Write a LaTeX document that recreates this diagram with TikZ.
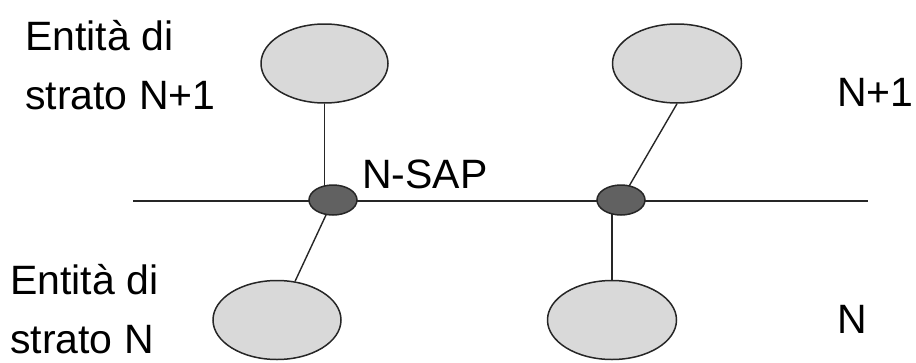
\documentclass[tikz,border=0pt]{standalone}
\usepackage{fontspec}
\setmainfont{Liberation Sans}
\usetikzlibrary{shapes.geometric}
\pgfdeclarelayer{background}
\pgfsetlayers{background,main}

\tikzset{
  entity/.style={ellipse, draw=black!85, line width=1.5pt, fill=black!15,
    minimum width=#1, minimum height=79pt, inner sep=0pt},
  sap/.style={ellipse, draw=black!85, line width=1.5pt, fill=black!62,
    minimum width=48pt, minimum height=30pt, inner sep=0pt},
  link/.style={draw=black!85, line width=1.4pt},
  lbl/.style={anchor=base west, inner sep=0pt, font=\fontsize{41}{59}\selectfont}
}

\begin{document}
\begin{tikzpicture}[x=1pt, y=-1pt]
  \useasboundingbox (0,0) rectangle (916,362);

  % layer N+1 and layer N entities
  \node[entity=127pt] (tl) at (324.5,63.5) {};
  \node[entity=129pt] (tr) at (677,63.5) {};
  \node[entity=128pt] (bl) at (277,320) {};
  \node[entity=129pt] (br) at (612,320) {};

  % service access points on the layer boundary
  \node[sap] (sl) at (333,200) {};
  \node[sap] (sr) at (621,200) {};

  % ends of the boundary line
  \coordinate (lineW) at (133,201);
  \coordinate (lineE) at (868,201);

  \begin{pgfonlayer}{background}
    \draw[link] (lineW) -- (lineE);
    \draw[link] (tl.south) -- (tl.south |- sl.center);
    \draw[link] (tr.south) -- (sr.center);
    \draw[link] (sl.center) -- (bl);
    \draw[link] (br.north) -- (br.north |- sr.center);
  \end{pgfonlayer}

  % labels
  \node[lbl] (up1) at (25,50) {Entità di};
  \node[lbl] (up2) at (25,109) {strato N+1};
  \node[lbl] (lo1) at (10,294) {Entità di};
  \node[lbl] (lo2) at (10,353) {strato N};
  \node[lbl] (nsap) at (362,188) {N-SAP};
  \node[lbl] (nup) at (837,106) {N+1};
  \node[lbl] (nlo) at (837,333) {N};
\end{tikzpicture}
\end{document}
